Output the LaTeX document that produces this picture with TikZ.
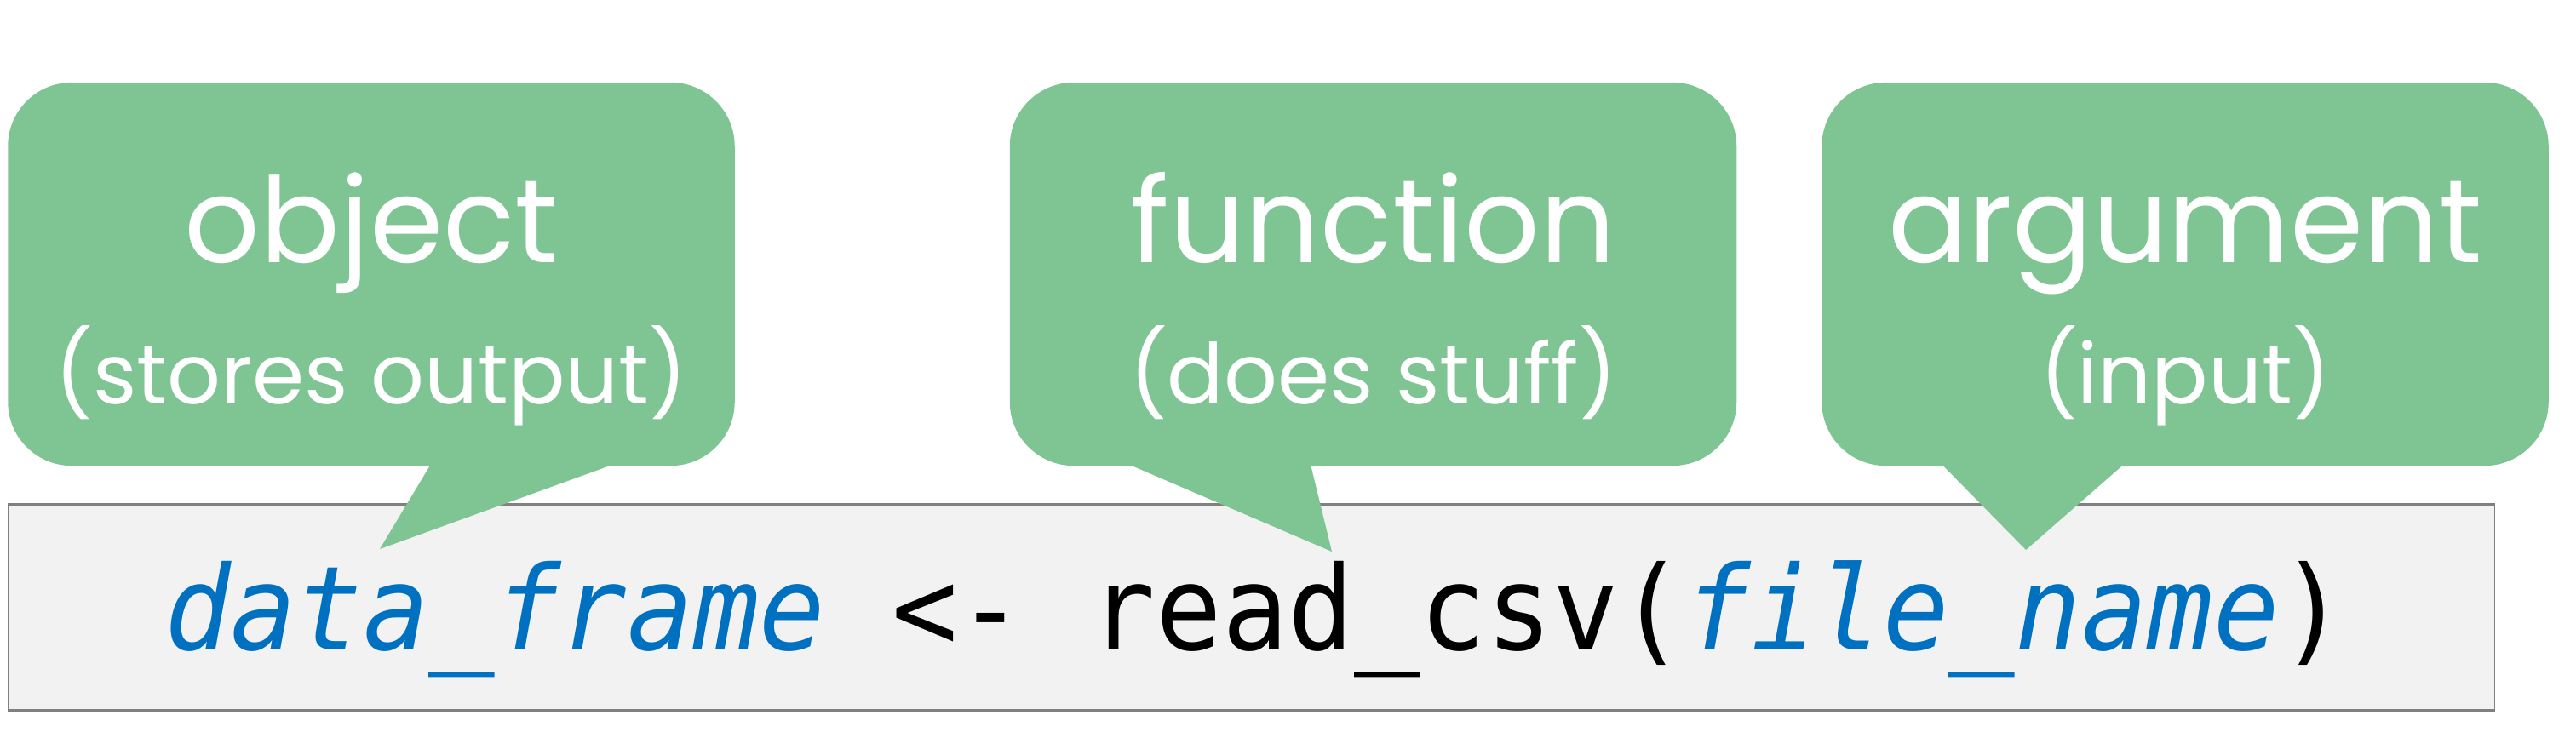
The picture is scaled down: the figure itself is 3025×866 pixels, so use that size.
\documentclass[tikz,border=0pt]{standalone}
\usepackage{fontspec}
\setmainfont{Poppins}
\setmonofont[FakeStretch=0.94]{DejaVu Sans Mono}
\usetikzlibrary{positioning, calc}
\definecolor{BubbleGreen}{RGB}{127,196,147}
\definecolor{CodeBlue}{RGB}{0,112,192}
\definecolor{CodeFill}{RGB}{242,242,242}
\definecolor{EdgeGray}{RGB}{128,128,128}

\begin{document}
\begin{tikzpicture}[x=0.01cm, y=-0.01cm,
    bubble/.style={fill=BubbleGreen, rounded corners=0.75cm, inner sep=0pt,
                   minimum width=8.53cm, minimum height=4.5cm},
    bigword/.style={font=\fontsize{39.5}{39.5}\selectfont, white, anchor=base},
    smallword/.style={font=\fontsize{28}{28}\selectfont, white, anchor=base},
    codebox/.style={fill=CodeFill, draw=EdgeGray, line width=0.3pt,
                    inner sep=0pt, minimum width=29.19cm, minimum height=2.41cm}]
  \useasboundingbox (0,0) rectangle (3025,866);

  % code line
  \node[codebox] (code) at (1469.5,713.5) {};
  \draw[EdgeGray, line width=0.9pt] (code.north west) -- (code.north east);
  \draw[EdgeGray, line width=0.9pt] (code.south west) -- (code.south east);
  \node[font=\ttfamily\fontsize{39}{39}\selectfont, anchor=base] (line) at (1474,763)
        {{\color{CodeBlue}\itshape data\_frame} <- read\_csv({\color{CodeBlue}\itshape file\_name})};

  % bubble tips
  \coordinate (tipobj) at (446,645);
  \coordinate (tipfun) at (1564,648);
  \coordinate (tiparg) at (2379,646);

  % bubbles
  \foreach \name/\cx/\big/\small/\ta/\tb in {
    obj/436/object/(stores output)/497/711,
    fun/1612.5/function/(does stuff)/141/354,
    arg/2566/argument/(input)/142/355
  } {
    \node[bubble] (\name) at (\cx,322) {};
    \fill[BubbleGreen] ($(\name.south west)+(\ta,-2)$) -- (tip\name)
          -- ($(\name.south west)+(\tb,-2)$) -- cycle;
    \node[bigword] (\name big) at (\cx,308) {\big};
    \node[smallword] (\name small) at (\cx,474) {\small};
  }
\end{tikzpicture}
\end{document}
